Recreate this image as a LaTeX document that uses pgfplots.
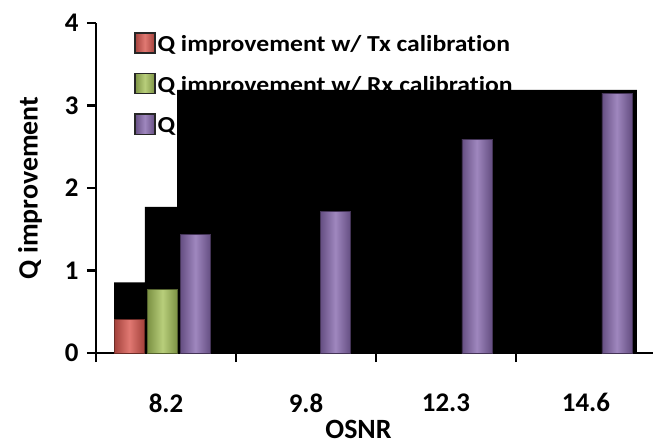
\documentclass[border=0pt]{standalone}
\usepackage{pgfplots}
\pgfplotsset{compat=1.18}
\usepackage{fontspec}
\setmainfont{Carlito}[Ligatures=NoCommon]
\newfontfamily\legfont{Carlito}[Ligatures=NoCommon, FakeStretch=1.12]
\definecolor{qred}{HTML}{D9574F}
\definecolor{qgreen}{HTML}{A6C25A}
\definecolor{qpurple}{HTML}{8769AE}
\begin{document}
\begin{tikzpicture}
\begin{axis}[
  scale only axis, width=557bp, height=330bp,
  xmin=-0.5, xmax=3.479, ymin=0, ymax=4,
  axis x line*=bottom, axis y line*=left,
  axis line style={line width=2.8bp, -},
  xtick={0,1,2,3}, xticklabels={8.2,9.8,12.3,14.6},
  minor xtick={-0.5,0.5,1.5,2.5},
  ytick={0,1,2,3,4},
  tick align=outside,
  major tick length=9bp, minor tick length=9bp,
  every tick/.style={black, line width=2.8bp},
  major x tick style={draw=none},
  /pgf/number format/assume math mode=true,
  tick label style={font=\fontsize{27}{27}\selectfont\bfseries},
  xticklabel style={yshift=-28bp},
  yticklabel style={xshift=-5bp},
  xlabel={OSNR}, ylabel={Q improvement},
  label style={font=\fontsize{28}{28}\selectfont\bfseries},
  xlabel style={yshift=-4bp, xshift=-16bp, inner sep=0pt},
  ylabel style={yshift=16bp},
  legend style={at={(axis description cs:0.068,0.972)}, anchor=north west,
    draw=none, fill=none, font=\legfont\fontsize{23}{23}\selectfont\bfseries,
    row sep=18bp, inner sep=0pt, legend cell align=left},
  legend image code/.code={\draw[#1, draw=black!85, line width=1.5bp] (0bp,-9bp) rectangle (20bp,11bp);},
  bars/.style={ybar, bar width=0.214, bar shift=0pt},
  shade3d/.style={fill=#1, draw=#1!50!black,
    left color=#1!75!black, right color=#1!75!black, middle color=#1!80!white},
]
% black shadow block of the original picture
\addplot[fill=black, draw=none, const plot, forget plot] coordinates {
  (-0.371,0.855) (-0.15,1.77) (0.079,3.19) (3.364,3.19)} \closedcycle;
\addplot[bars, shade3d=qred] coordinates {(-0.262,0.41)};
\addlegendentry{Q improvement w/ Tx calibration}
\addplot[bars, shade3d=qgreen] coordinates {(-0.025,0.77)};
\addlegendentry{Q improvement w/ Rx calibration}
\addplot[bars, shade3d=qpurple] coordinates {(0.21,1.44)};
\addlegendentry{Q improvement w/ Tx \& Rx calibration}
\addplot[bars, shade3d=qpurple, forget plot] coordinates {(1.21,1.72)};
\addplot[bars, shade3d=qpurple, forget plot] coordinates {(2.22,2.59)};
\addplot[bars, shade3d=qpurple, forget plot] coordinates {(3.22,3.15)};
\end{axis}
\pgfresetboundingbox
\useasboundingbox (-96bp,-90bp) rectangle (557bp,353bp);
\end{tikzpicture}
\end{document}
